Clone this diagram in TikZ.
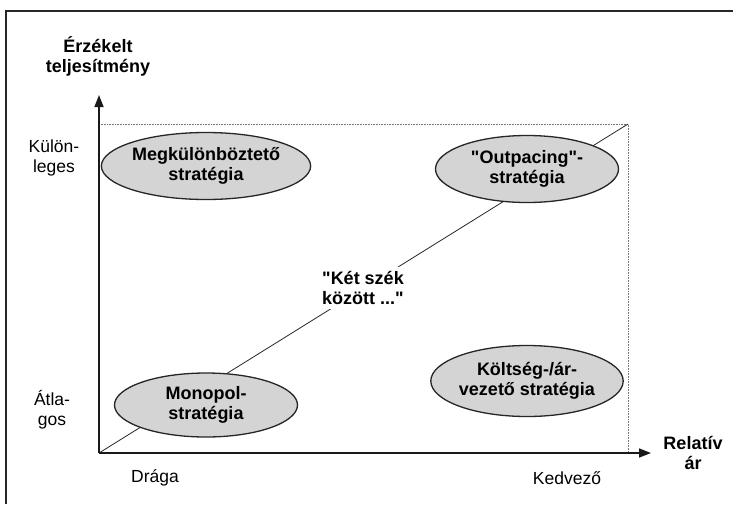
\documentclass[tikz,border=0pt]{standalone}
\usepackage{fontspec}
\setmainfont{Liberation Sans}[Ligatures=TeXOff]
\usetikzlibrary{shapes.geometric,arrows.meta}
\begin{document}
\begin{tikzpicture}[x=1pt,y=-1pt]
\useasboundingbox (0,0) rectangle (733,504);
\tikzset{
 strat/.style={ellipse, draw=black!85, line width=1.3pt, fill=black!17, minimum width=183pt, minimum height=67pt, inner sep=0pt, align=center, font=\bfseries\fontsize{18}{20}\selectfont},
 lbl/.style={align=center, font=\fontsize{17.5}{20}\selectfont, inner sep=0pt},
 blbl/.style={align=center, font=\bfseries\fontsize{18}{20}\selectfont, inner sep=0pt},
 axisline/.style={line width=1.5pt, draw=black!90, -{Triangle[length=12pt,width=9pt]}},
 boxline/.style={line width=0.6pt, draw=black!55, densely dotted},
 frameline/.style={line width=1.4pt, draw=black!85},
}
% outer frame
\coordinate (frTR) at (733,11);
\coordinate (frTL) at (6,11);
\coordinate (frBL) at (6,504);
\draw[frameline] (frTR) -- (frTL) -- (frBL);
% plot coordinates
\coordinate (O) at (99,453);
\coordinate (Ytip) at (99,95);
\coordinate (Xtip) at (651,453);
\coordinate (TL) at (99,124);
\coordinate (TR) at (628,124);
\coordinate (BR) at (628,453);
\draw[boxline] (TL) -- (TR) -- (BR);
\draw[line width=0.8pt, black!85] (O) -- (TR);
\draw[axisline] (O) -- (Ytip);
\draw[axisline] (O) -- (Xtip);
% ellipses
\node[strat] (diff) at (206,166) {Megkülönböztető\\stratégia};
\node[strat] (outp) at (527,169) {"Outpacing"-\\stratégia};
\node[strat, minimum height=64pt] (mono) at (206,405) {Monopol-\\stratégia};
\node[strat, minimum height=71pt] (cost) at (527,381) {Költség-/ár-\\vezető stratégia};
% middle
\node[blbl, fill=white, inner sep=4pt] (ket) at (363,288) {"Két szék\\között ..."};
% axis labels
\node[blbl] (ylab) at (98,56) {Érzékelt\\teljesítmény};
\node[blbl] (xlab) at (693,453) {Relatív\\ár};
\node[lbl] (kul) at (54,158) {Külön-\\leges};
\node[lbl] (atl) at (52,410) {Átla-\\gos};
\node[lbl] (dra) at (155,478) {Drága};
\node[lbl] (ked) at (567,478) {Kedvező};
\end{tikzpicture}
\end{document}
